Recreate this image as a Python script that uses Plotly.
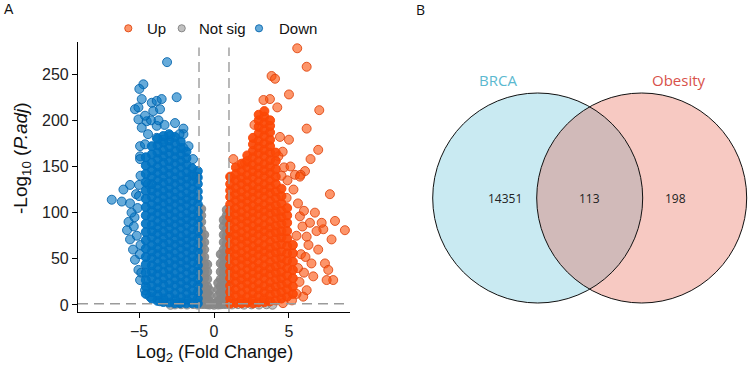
import plotly.graph_objects as go

# ---------------- data ----------------
# Volcano plot: log2 fold change (x) and -log10 adjusted p (y)
# dense cores are given column-wise: one x per column and the y values in it
down_core_x = [-1.08, -1.46, -1.84, -2.22, -2.61, -3.0, -3.38, -3.77, -4.15, -4.55]
down_core_y = [
    [1.6, 7, 14, 21, 28, 36, 43, 50, 58, 65, 72, 80, 87, 94, 101, 109, 116, 123, 131, 138, 145],
    [2.1, 9, 16, 24, 31, 38, 46, 53, 60, 68, 75, 82, 90, 97, 104, 112, 119, 126, 134, 141, 148],
    [1.8, 6, 13, 20, 27, 35, 42, 49, 57, 64, 71, 78, 86, 93, 100, 108, 115, 122, 130, 137, 144, 152, 159, 166],
    [2.4, 9, 17, 24, 31, 39, 46, 53, 61, 68, 75, 83, 90, 97, 105, 112, 119, 127, 134, 141, 149, 156, 163, 170, 177],
    [1.9, 6, 13, 21, 28, 35, 43, 50, 57, 65, 72, 79, 87, 94, 101, 109, 116, 123, 131, 138, 145, 153, 160, 167, 175, 182],
    [2.6, 10, 17, 24, 32, 39, 46, 54, 61, 68, 76, 83, 90, 98, 105, 112, 120, 127, 134, 142, 149, 156, 164, 171, 178, 185],
    [3.2, 7, 14, 22, 29, 36, 44, 51, 58, 66, 73, 80, 88, 95, 102, 110, 117, 124, 132, 139, 146, 154, 161, 168, 176, 183],
    [4.5, 11, 18, 25, 33, 40, 47, 55, 62, 69, 77, 84, 91, 99, 106, 113, 121, 128, 135, 143, 150, 158, 165, 173, 180],
    [7, 14, 21, 29, 36, 43, 51, 58, 65, 73, 80, 87, 95, 102, 109, 117, 124, 131, 139, 146, 154, 163, 172],
    [12, 20, 27, 35, 44, 52, 61, 70, 79, 88, 97, 106, 115, 124, 133, 142, 151, 160],
]
down_sparse = [
    (-3.13, 263), (-4.71, 239), (-4.98, 234), (-2.49, 225), (-4.82, 223), (-4.15, 219),
    (-3.82, 221), (-3.49, 223), (-5.27, 212), (-5.04, 214), (-4.05, 210), (-3.60, 212),
    (-5.04, 201), (-4.49, 199), (-3.82, 194), (-4.82, 192), (-2.60, 197), (-2.04, 191),
    (-2.04, 185), (-2.93, 183), (-3.82, 181), (-3.38, 179), (-4.93, 172), (-4.60, 174),
    (-2.04, 170), (-4.93, 161), (-4.93, 158), (-1.27, 139), (-1.15, 139), (-5.60, 130),
    (-6.04, 125), (-6.82, 114), (-6.15, 112), (-5.00, 130), (-4.40, 131), (-5.60, 110),
    (-5.80, 81), (-5.60, 71), (-5.40, 60), (-5.27, 49), (-5.04, 38), (-4.93, 27),
    (-4.60, 16), (-4.27, 9), (-3.60, 4), (-2.27, 2), (-5.30, 95), (-5.50, 100),
    (-5.70, 90), (-5.20, 120), (-4.90, 140), (-4.40, 185), (-4.20, 200), (-4.60, 205),
    (-3.70, 200), (-3.30, 195), (-2.30, 185), (-1.70, 172), (-1.40, 158), (-5.10, 105),
    (-5.15, 75), (-4.95, 55), (-5.35, 85), (-4.85, 35), (-4.90, 65), (-5.00, 118),
]

up_core_x = [1.08, 1.46, 1.84, 2.22, 2.6, 2.98, 3.36, 3.74, 4.12, 4.5, 4.88, 5.26]
up_core_y = [
    [1.5, 7, 14, 21, 29, 36, 43, 51, 58, 65, 73, 80, 87, 95, 102, 109, 117, 124, 131, 139],
    [2.2, 10, 17, 25, 32, 39, 47, 54, 61, 69, 76, 83, 91, 98, 105, 113, 120, 127, 135, 142, 149],
    [1.9, 6, 13, 21, 28, 35, 43, 50, 57, 65, 72, 79, 87, 94, 101, 109, 116, 123, 131, 138, 145, 153],
    [2.5, 9, 17, 24, 31, 39, 46, 53, 61, 68, 75, 83, 90, 97, 105, 112, 119, 127, 134, 141, 149, 156, 162],
    [1.7, 6, 13, 20, 28, 35, 42, 50, 57, 64, 72, 79, 86, 94, 101, 108, 116, 123, 130, 138, 145, 152, 160, 167, 174, 181],
    [2.8, 10, 17, 24, 32, 39, 46, 54, 61, 68, 76, 83, 90, 98, 105, 112, 120, 127, 134, 142, 149, 156, 164, 171, 178, 186, 193, 200, 206],
    [3.1, 7, 14, 21, 29, 36, 43, 51, 58, 65, 73, 80, 87, 95, 102, 109, 117, 124, 131, 139, 146, 153, 161, 168, 175, 183, 190, 197, 204, 210],
    [4, 11, 18, 25, 33, 40, 47, 55, 62, 69, 77, 84, 91, 99, 106, 113, 121, 128, 135, 143, 150, 157, 165, 172, 179, 187, 194, 200],
    [5, 13, 20, 28, 35, 42, 50, 57, 64, 72, 79, 86, 94, 101, 108, 116, 123, 131, 139, 147, 156, 165],
    [7, 14, 22, 29, 36, 44, 51, 58, 66, 73, 80, 88, 95, 102, 110, 118, 126],
    [9, 17, 24, 32, 40, 48, 56, 64, 72, 80, 89, 97, 105],
    [12, 20, 29, 38, 47, 56, 65],
]
up_sparse = [
    (5.55, 278), (6.18, 258), (3.84, 248), (4.07, 245), (5.00, 228), (3.73, 223),
    (4.22, 214), (7.02, 211), (6.18, 191), (5.00, 179), (4.58, 166), (4.29, 161),
    (6.95, 168), (6.44, 158), (1.29, 158), (2.07, 154), (4.67, 149), (6.07, 145),
    (5.40, 141), (5.78, 141), (1.11, 138), (7.73, 120), (6.73, 100), (8.07, 91),
    (8.73, 81), (7.84, 71), (7.29, 82), (6.95, 60), (7.40, 45), (7.62, 38),
    (7.95, 27), (7.51, 27), (6.62, 31), (6.18, 16), (5.95, 9), (5.73, 96),
    (6.00, 102), (7.18, 89), (6.40, 89), (6.84, 80), (6.18, 74), (4.84, 116),
    (5.73, 139), (5.30, 125), (5.60, 110), (5.90, 85), (6.30, 65), (5.80, 55),
    (6.50, 45), (6.00, 35), (5.70, 25), (5.50, 12), (5.20, 5), (4.60, 2),
    (5.10, 150), (4.90, 135), (5.50, 75), (5.60, 40), (6.10, 52), (4.40, 182),
    (3.30, 222), (2.70, 195), (4.50, 140),
]

ns_core_x = [-0.85, -0.65, -0.45, -0.3, 0.28, 0.45, 0.65, 0.85]
ns_core_y = [
    [1, 8, 15, 22, 30, 37, 45, 52, 60, 67, 75, 82, 90, 97, 104],
    [1, 7, 14, 21, 29, 36, 44, 52, 60, 68, 76],
    [0.8, 6, 13, 20, 28, 36, 44],
    [0.5, 4, 10, 16],
    [0.5, 4, 10, 17, 24],
    [0.8, 6, 13, 20, 28, 36, 45, 55],
    [1, 7, 14, 21, 29, 36, 44, 52, 60, 68, 76, 85, 92],
    [1, 8, 15, 22, 30, 37, 45, 52, 60, 67, 75, 82, 90, 97, 103],
]
ns_sparse = [
    (0.0, 0.3), (0.1, 1.5), (-0.12, 1.2), (-2.9, 0.2), (-2.6, 0.6), (-2.2, 0.8),
    (-1.8, 0.5), (-1.4, 1.0), (-1.1, 0.4), (1.2, 0.6), (1.6, 0.9), (2.0, 0.4),
    (2.5, 0.7), (3.0, 0.5), (3.5, 0.8), (3.9, 0.3),
]

groups = ["Up", "Not sig", "Down"]
x_ticks = [-5, 0, 5]
y_ticks = [0, 50, 100, 150, 200, 250]
fc_cut = 1.0
p_cut = 1.3  # -log10(0.05)

# Venn diagram
venn_sets = ["BRCA", "Obesity"]
venn_counts = [14351, 113, 198]  # BRCA only, both, Obesity only

# ---------------- build ----------------
W, H = 749, 366
FONT = "Liberation Sans, Arial, sans-serif"


def expand(xs, yss):
    X, Y = [], []
    for x, ys in zip(xs, yss):
        for y in ys:
            X.append(x)
            Y.append(y)
    return X, Y


def unzip(pts):
    return [p[0] for p in pts], [p[1] for p in pts]


colors = {
    # name: (core fill, core line, sparse fill, sparse line)
    "Not sig": ("rgba(135,135,135,0.9)", "rgba(135,135,135,0.9)", "rgba(150,150,150,0.6)", "rgba(125,125,125,0.85)"),
    "Down": ("rgba(0,115,194,0.92)", "rgba(0,112,192,0.92)", "rgba(0,115,194,0.6)", "rgba(0,98,170,0.85)"),
    "Up": ("rgba(252,72,5,0.93)", "rgba(250,70,5,0.93)", "rgba(252,78,7,0.6)", "rgba(222,66,10,0.85)"),
}
data = {
    "Not sig": (expand(ns_core_x, ns_core_y), unzip(ns_sparse)),
    "Down": (expand(down_core_x, down_core_y), unzip(down_sparse)),
    "Up": (expand(up_core_x, up_core_y), unzip(up_sparse)),
}

fig = go.Figure()
for name in ["Not sig", "Down", "Up"]:
    core, sparse = data[name]
    cf, cl, sf, sl = colors[name]
    fig.add_trace(go.Scatter(
        x=sparse[0], y=sparse[1], mode="markers", name=name, showlegend=False, hoverinfo="skip",
        marker=dict(size=9, color=sf, line=dict(color=sl, width=1)), xaxis="x", yaxis="y",
    ))
    fig.add_trace(go.Scatter(
        x=core[0], y=core[1], mode="markers", name=name, showlegend=False, hoverinfo="skip",
        marker=dict(size=9, color=cf, line=dict(color=cl, width=1)), xaxis="x", yaxis="y",
    ))

shapes = []
# threshold lines
for xv in (-fc_cut, fc_cut):
    shapes.append(dict(type="line", xref="x", yref="y domain", x0=xv, x1=xv, y0=0, y1=0.98,
                       line=dict(color="rgb(155,155,155)", width=1.4, dash="10px,6px")))
shapes.append(dict(type="line", xref="x domain", yref="y", x0=0, x1=1, y0=p_cut, y1=p_cut,
                   line=dict(color="rgb(155,155,155)", width=1.4, dash="10px,6px")))

# legend keys (pixel coordinates on overlay axis)
legend_pos = {"Up": (128.3, 145), "Not sig": (181.7, 197), "Down": (259.0, 277)}
annotations = []
for g in groups:
    cx, tx = legend_pos[g]
    fill, line = colors[g][2], colors[g][3]
    shapes.append(dict(type="circle", xref="x2", yref="y2", x0=cx - 3.6, x1=cx + 3.6,
                       y0=28.3 - 3.6, y1=28.3 + 3.6, fillcolor=fill, line=dict(color=line, width=1)))
    annotations.append(dict(xref="x2", yref="y2", x=tx, y=28.5, text=g, showarrow=False,
                            xanchor="left", yanchor="middle", font=dict(family=FONT, size=15, color="#111")))

# Venn circles
venn_fill = ["rgba(77,187,213,0.3)", "rgba(230,75,53,0.3)"]
venn_text = ["#5BB9D0", "#D8514A"]
centers = [(537.7, 198.0), (641.7, 198.0)]
R = 105
for (cx, cy), f in zip(centers, venn_fill):
    shapes.append(dict(type="circle", xref="x2", yref="y2", x0=cx - R, x1=cx + R, y0=cy - R, y1=cy + R,
                       fillcolor=f, line=dict(width=0), layer="below"))
for (cx, cy) in centers:
    shapes.append(dict(type="circle", xref="x2", yref="y2", x0=cx - R, x1=cx + R, y0=cy - R, y1=cy + R,
                       fillcolor="rgba(0,0,0,0)", line=dict(color="#111", width=1)))

for name, xpos, col in zip(venn_sets, [498, 679], venn_text):
    annotations.append(dict(xref="x2", yref="y2", x=xpos, y=80, text=name, showarrow=False,
                            xanchor="center", yanchor="middle",
                            font=dict(family="Open Sans, sans-serif", size=15, color=col)))
for val, xpos in zip(venn_counts, [504.5, 589.5, 675.0]):
    annotations.append(dict(xref="x2", yref="y2", x=xpos, y=198, text=str(val), showarrow=False,
                            xanchor="center", yanchor="middle",
                            font=dict(family="Open Sans, sans-serif", size=12, color="#222")))

# panel labels and axis titles
annotations += [
    dict(xref="x2", yref="y2", x=2, y=9, text="A", showarrow=False, xanchor="left", yanchor="middle",
         font=dict(family=FONT, size=14, color="#111")),
    dict(xref="x2", yref="y2", x=414, y=9, text="B", showarrow=False, xanchor="left", yanchor="middle",
         font=dict(family="Open Sans, sans-serif", size=14, color="#111")),
    dict(xref="x2", yref="y2", x=22, y=158, text="-Log<sub>10</sub> (<i>P.adj</i>)", showarrow=False,
         textangle=-90, xanchor="center", yanchor="middle", font=dict(family=FONT, size=19, color="#111")),
    dict(xref="x2", yref="y2", x=214, y=353, text="Log<sub>2</sub> (Fold Change)", showarrow=False,
         xanchor="center", yanchor="middle", font=dict(family=FONT, size=18, color="#111")),
]

axis_common = dict(showline=True, linecolor="black", linewidth=1.2, ticks="outside", ticklen=5,
                   tickwidth=1.1, tickcolor="black", showgrid=False, zeroline=False, automargin=False,
                   tickfont=dict(family=FONT, size=16, color="#222"), fixedrange=True)

fig.update_layout(
    template="none",
    width=W, height=H, margin=dict(l=0, r=0, t=0, b=0, pad=0, autoexpand=False),
    paper_bgcolor="white", plot_bgcolor="rgba(0,0,0,0)", showlegend=False,
    xaxis=dict(domain=[78 / W, 350 / W], range=[-9.07, 9.07], tickvals=x_ticks, anchor="y", **axis_common),
    yaxis=dict(domain=[1 - 312 / H, 1 - 42 / H], range=[-7.6, 284.8], tickvals=y_ticks, anchor="x", **axis_common),
    xaxis2=dict(domain=[0, 1], range=[0, W], visible=False, anchor="y2", fixedrange=True, automargin=False),
    yaxis2=dict(domain=[0, 1], range=[H, 0], visible=False, anchor="x2", fixedrange=True, automargin=False),
    shapes=shapes, annotations=annotations,
)

fig.write_html(
    "out.html",
    config={"displayModeBar": False},
    post_script="document.body.style.margin='0';document.body.style.overflow='hidden';",
)
